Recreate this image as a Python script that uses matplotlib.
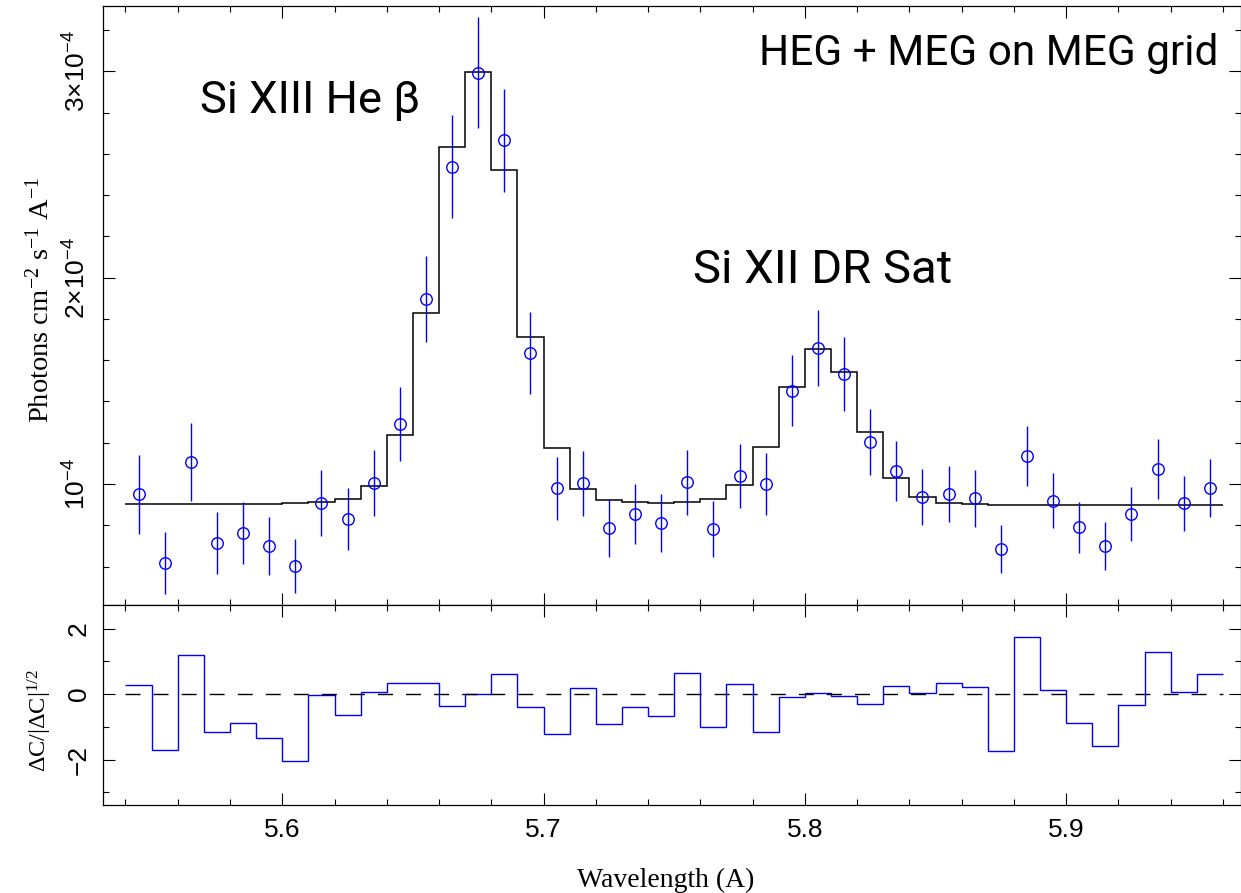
import numpy as np
import matplotlib
matplotlib.use("Agg")
import matplotlib.pyplot as plt
from matplotlib.ticker import MultipleLocator

plt.rcParams["font.family"] = "Liberation Sans"
plt.rcParams["mathtext.fontset"] = "custom"
plt.rcParams["mathtext.rm"] = "Liberation Serif"
plt.rcParams["mathtext.sf"] = "Liberation Sans"
plt.rcParams["mathtext.default"] = "rm"

# bin centres (A)
wave = [5.545, 5.555, 5.565, 5.575, 5.585, 5.595, 5.605, 5.615, 5.625, 5.635,
        5.645, 5.655, 5.665, 5.675, 5.685, 5.695, 5.705, 5.715, 5.725, 5.735,
        5.745, 5.755, 5.765, 5.775, 5.785, 5.795, 5.805, 5.815, 5.825, 5.835,
        5.845, 5.855, 5.865, 5.875, 5.885, 5.895, 5.905, 5.915, 5.925, 5.935,
        5.945, 5.955]

# data, units of 1e-4 photons cm^-2 s^-1 A^-1
flux = [0.950, 0.616, 1.108, 0.716, 0.764, 0.701, 0.604, 0.906, 0.829, 1.003,
        1.291, 1.897, 2.538, 2.994, 2.667, 1.634, 0.979, 1.003, 0.788, 0.853,
        0.812, 1.008, 0.782, 1.039, 0.999, 1.452, 1.659, 1.532, 1.202, 1.063,
        0.938, 0.950, 0.931, 0.685, 1.136, 0.919, 0.790, 0.701, 0.855, 1.073,
        0.906, 0.982]
flux_err = [0.19, 0.15, 0.19, 0.15, 0.15, 0.14, 0.13, 0.16, 0.15, 0.16,
            0.18, 0.21, 0.25, 0.27, 0.25, 0.20, 0.153, 0.157, 0.14, 0.145,
            0.14, 0.158, 0.137, 0.156, 0.15, 0.173, 0.186, 0.18, 0.16, 0.145,
            0.135, 0.135, 0.137, 0.117, 0.147, 0.132, 0.124, 0.117, 0.131, 0.146,
            0.135, 0.14]

# folded model, same units
model = [0.902, 0.902, 0.902, 0.903, 0.903, 0.904, 0.907, 0.911, 0.926, 0.992,
         1.236, 1.827, 2.634, 2.996, 2.521, 1.711, 1.176, 0.974, 0.922, 0.913,
         0.910, 0.912, 0.926, 0.994, 1.179, 1.469, 1.656, 1.544, 1.252, 1.028,
         0.936, 0.909, 0.903, 0.900, 0.900, 0.900, 0.900, 0.900, 0.900, 0.900,
         0.900, 0.900]

# residuals
resid = [0.28, -1.72, 1.20, -1.16, -0.89, -1.35, -2.05, -0.03, -0.65, 0.06,
         0.33, 0.33, -0.38, -0.01, 0.60, -0.40, -1.22, 0.19, -0.93, -0.40,
         -0.66, 0.65, -1.02, 0.30, -1.17, -0.10, 0.02, -0.06, -0.32, 0.24,
         0.04, 0.33, 0.21, -1.73, 1.73, 0.13, -0.88, -1.58, -0.34, 1.29,
         0.06, 0.62]

flux_ticks = [1e-4, 2e-4, 3e-4]
flux_tick_labels = [r"$\mathsf{10^{-4}}$", r"$\mathsf{2{\times}10^{-4}}$",
                    r"$\mathsf{3{\times}10^{-4}}$"]

x = np.array(wave)
edges = np.append(x - 0.005, x[-1] + 0.005)
scale = 1e-4

fig = plt.figure(figsize=(12.41, 8.93), dpi=100)
ax1 = fig.add_axes([0.0830, 0.32251, 0.9174, 0.67077])
ax2 = fig.add_axes([0.0830, 0.09854, 0.9174, 0.22397], sharex=ax1)

# top panel
ax1.stairs(np.array(model) * scale, edges, baseline=None, color="black", lw=1.1)
ax1.errorbar(x, np.array(flux) * scale, yerr=np.array(flux_err) * scale,
             fmt="o", ms=8.3, mfc="none", mec="blue", mew=1.0,
             ecolor="blue", elinewidth=1.0, capsize=0)
ax1.set_xlim(5.5314, 5.9671)
ax1.set_ylim(0.4135e-4, 3.317e-4)
ax1.set_yticks(flux_ticks)
ax1.set_yticklabels(flux_tick_labels)
ax1.yaxis.set_minor_locator(MultipleLocator(2e-5))
ax1.set_ylabel(r"Photons cm$^{-2}$ s$^{-1}$ A$^{-1}$", family="Liberation Serif",
               fontsize=20.5, va="center")
ax1.yaxis.set_label_coords(-0.0554, 0.51)

ax1.text(0.0852, 0.8214, "Si XIII He β", transform=ax1.transAxes,
         family="Roboto", fontsize=32.7, va="baseline", ha="left")
ax1.text(0.5185, 0.5376, "Si XII DR Sat", transform=ax1.transAxes,
         family="Roboto", fontsize=34, va="baseline", ha="left")
ax1.text(0.9798, 0.9015, "HEG + MEG on MEG grid", transform=ax1.transAxes,
         family="Roboto", fontsize=30.5, va="baseline", ha="right")

# bottom panel
ax2.stairs(resid, edges, baseline=None, color="blue", lw=1.0)
ax2.plot([edges[0], edges[-1]], [0, 0], color="black", lw=1.0,
         linestyle=(0, (10.8, 9.4)))
ax2.set_ylim(-3.389, 2.718)
ax2.yaxis.set_major_locator(MultipleLocator(2))
ax2.yaxis.set_minor_locator(MultipleLocator(1))
ax2.set_ylabel(r"ΔC/|ΔC|$^{1/2}$", family="Liberation Serif", fontsize=17.5,
               va="center")
ax2.yaxis.set_label_coords(-0.0554, 0.425)
ax2.set_xlabel("Wavelength (A)", family="Liberation Serif", fontsize=20,
               va="center")
ax2.xaxis.set_label_coords(0.4938, -0.375)

ax2.xaxis.set_major_locator(MultipleLocator(0.1))
ax2.xaxis.set_minor_locator(MultipleLocator(0.02))

for ax in (ax1, ax2):
    ax.tick_params(which="both", direction="in", top=True, right=True,
                   width=0.8, labelsize=19)
    ax.tick_params(which="major", length=8.6, pad=9)
    ax.tick_params(which="minor", length=4.3)
    for lab in ax.get_yticklabels():
        lab.set_rotation(90)
        lab.set_va("center")
    for sp in ax.spines.values():
        sp.set_linewidth(0.9)

ax1.tick_params(labelbottom=False)

fig.savefig("out.png", dpi=100)
